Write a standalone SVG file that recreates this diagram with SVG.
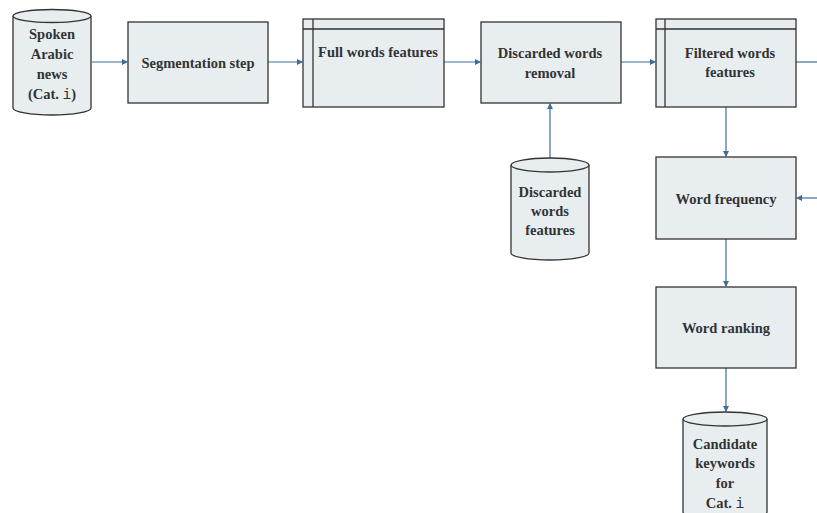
<svg xmlns="http://www.w3.org/2000/svg" width="817" height="513" viewBox="0 0 817 513">
<style>
.box{fill:#e8eef0;stroke:#333;stroke-width:1.3}
.t{font-family:'Liberation Serif','Times New Roman','DejaVu Serif',serif;font-weight:bold;font-size:14.5px;fill:#333;text-anchor:middle}
.m{font-family:'Liberation Mono','Courier New',monospace;font-weight:normal}
.c{stroke:#3c6e96;stroke-width:1.2;fill:none}
</style>
<defs>
<marker id="ah" markerWidth="6" markerHeight="6" refX="5" refY="3" orient="auto" markerUnits="userSpaceOnUse">
<path d="M0,0 L6,3 L0,6 Z" fill="#3c6e96"/>
</marker>
</defs>
<rect width="817" height="513" fill="#fff"/>
<g id="connectors">
<line class="c" x1="92" y1="62" x2="127" y2="62" marker-end="url(#ah)"/>
<line class="c" x1="268" y1="62" x2="302" y2="62" marker-end="url(#ah)"/>
<line class="c" x1="444" y1="62" x2="480" y2="62" marker-end="url(#ah)"/>
<line class="c" x1="621" y1="62" x2="655" y2="62" marker-end="url(#ah)"/>
<line class="c" x1="796" y1="62" x2="817" y2="62"/>
<line class="c" x1="550" y1="158" x2="550" y2="104" marker-end="url(#ah)"/>
<line class="c" x1="726" y1="107" x2="726" y2="156" marker-end="url(#ah)"/>
<line class="c" x1="817" y1="198" x2="797" y2="198" marker-end="url(#ah)"/>
<line class="c" x1="726" y1="239" x2="726" y2="286" marker-end="url(#ah)"/>
<line class="c" x1="726" y1="368" x2="726" y2="411" marker-end="url(#ah)"/>
</g>
<g font-family="Liberation Serif, serif">
<g id="spoken">
<path class="box" d="M13,16 L13,108 A39,7 0 0 0 91,108 L91,16"/>
<ellipse class="box" cx="52" cy="16" rx="39" ry="6.5"/>
<text class="t" x="52" y="39">Spoken</text>
<text class="t" x="52" y="59">Arabic</text>
<text class="t" x="52" y="79">news</text>
<text class="t" x="52" y="99">(Cat. <tspan class="m">i</tspan>)</text>
</g>
<g id="segmentation">
<rect class="box" x="128" y="22" width="140" height="81"/>
<text class="t" x="198" y="68">Segmentation step</text>
</g>
<g id="full">
<rect class="box" x="303" y="19" width="141" height="88"/>
<line x1="313" y1="19" x2="313" y2="107" stroke="#333" stroke-width="1.3"/>
<line x1="303" y1="29" x2="444" y2="29" stroke="#333" stroke-width="1.3"/>
<text class="t" x="378" y="57">Full words features</text>
</g>
<g id="removal">
<rect class="box" x="481" y="22" width="140" height="81"/>
<text class="t" x="550" y="58">Discarded words</text>
<text class="t" x="550" y="78">removal</text>
</g>
<g id="filtered">
<rect class="box" x="656" y="19" width="140" height="88"/>
<line x1="665" y1="19" x2="665" y2="107" stroke="#333" stroke-width="1.3"/>
<line x1="656" y1="29" x2="796" y2="29" stroke="#333" stroke-width="1.3"/>
<text class="t" x="730" y="58">Filtered words</text>
<text class="t" x="730" y="77">features</text>
</g>
<g id="discarded">
<path class="box" d="M511,165 L511,253 A39,7 0 0 0 589,253 L589,165"/>
<ellipse class="box" cx="550" cy="165" rx="39" ry="7"/>
<text class="t" x="550" y="197">Discarded</text>
<text class="t" x="550" y="216">words</text>
<text class="t" x="550" y="235">features</text>
</g>
<g id="frequency">
<rect class="box" x="656" y="157" width="140" height="82"/>
<text class="t" x="726" y="204">Word frequency</text>
</g>
<g id="ranking">
<rect class="box" x="656" y="287" width="140" height="81"/>
<text class="t" x="726" y="333">Word ranking</text>
</g>
<g id="candidate">
<path class="box" d="M683,419 L683,512 A42,7 0 0 0 767,512 L767,419"/>
<ellipse class="box" cx="725" cy="419" rx="42" ry="7"/>
<text class="t" x="725" y="449">Candidate</text>
<text class="t" x="725" y="468">keywords</text>
<text class="t" x="725" y="488">for</text>
<text class="t" x="725" y="508">Cat. <tspan class="m">i</tspan></text>
</g>
</g>
</svg>
